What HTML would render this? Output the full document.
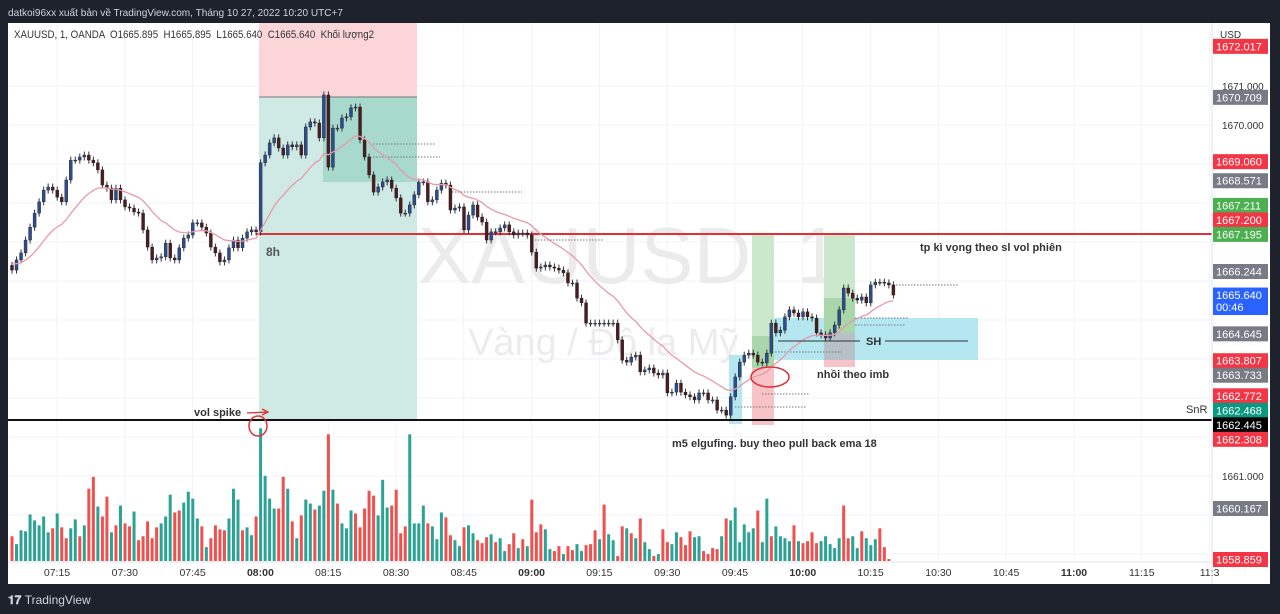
<!DOCTYPE html>
<html><head><meta charset="utf-8"><style>
html,body{margin:0;padding:0;background:#1e222d;}
svg{display:block;font-family:"Liberation Sans","DejaVu Sans",sans-serif;}
.pre{white-space:pre;}
</style></head><body>
<svg id="c" width="1280" height="614" viewBox="0 0 1280 614" xmlns="http://www.w3.org/2000/svg">
<rect x="0" y="0" width="1280" height="614" fill="#1e222d"/>
<text x="8" y="16" font-size="10.5" fill="#d1d4dc" textLength="335" lengthAdjust="spacingAndGlyphs">datkoi96xx xuất bản về TradingView.com, Tháng 10 27, 2022 10:20 UTC+7</text>
<rect x="8" y="23" width="1262" height="561" fill="#ffffff"/>
<g id="grid"></g>
<g>
<text x="418" y="283" font-size="80" fill="#ebebeb">XAUUSD, 1</text>
<text x="468" y="355" font-size="38" fill="#ececec">Vàng / Đô la Mỹ</text>
</g>
<g>
<rect x="259" y="23" width="158" height="74" fill="#fbd5d8"/>
<rect x="259" y="97" width="158" height="322" fill="#cfe9e4"/>
<rect x="323" y="97" width="94" height="85" fill="#a7d9cd"/>
<line x1="259" y1="97" x2="417" y2="97" stroke="#777" stroke-width="1"/>
</g>
<g>
<rect x="769" y="318" width="209" height="42" fill="#b4e7f0"/>
<rect x="729" y="355" width="13" height="69" fill="#b4e7f0"/>
<rect x="752" y="235" width="22" height="101" fill="#cbe8cc"/>
<rect x="752" y="336" width="22" height="32" fill="#a9d6aa"/>
<rect x="752" y="368" width="22" height="57" fill="#f8c3c7"/>
<rect x="824" y="235" width="31" height="63" fill="#cbe8cc"/>
<rect x="824" y="298" width="31" height="35" fill="#a9d6aa"/>
<rect x="824" y="333" width="31" height="27" fill="#b6c2c8"/>
<rect x="824" y="360" width="31" height="7" fill="#f8c3c7"/>
</g>
<g stroke="#777" stroke-width="1" stroke-dasharray="1.5,1.5">
<line x1="373" y1="144" x2="436" y2="144"/>
<line x1="370" y1="157" x2="440" y2="157"/>
<line x1="452" y1="192" x2="522" y2="192"/>
<line x1="535" y1="240" x2="603" y2="240"/>
<line x1="893" y1="285" x2="958" y2="285"/>
<line x1="855" y1="318" x2="908" y2="318"/>
<line x1="855" y1="325" x2="905" y2="325"/>
<line x1="775" y1="352" x2="842" y2="352"/>
<line x1="762" y1="394" x2="810" y2="394"/>
<line x1="735" y1="407" x2="806" y2="407"/>
</g>
<line x1="256" y1="234" x2="1212" y2="234" stroke="#e0303a" stroke-width="2"/>
<line x1="8" y1="420" x2="1212" y2="420" stroke="#111" stroke-width="2"/>
<g id="vol"></g>
<g id="candles"></g>
<path id="ema" fill="none" stroke="#e89aa8" stroke-width="1.3"/>
<g>
<line x1="778" y1="341" x2="860" y2="341" stroke="#333" stroke-width="1"/>
<line x1="885" y1="341" x2="968" y2="341" stroke="#333" stroke-width="1"/>
<text x="866" y="345" font-size="11" font-weight="bold" fill="#333">SH</text>
<ellipse cx="770" cy="377" rx="19" ry="10" fill="none" stroke="#e0303a" stroke-width="1.5"/>
<ellipse cx="258" cy="426" rx="9" ry="10" fill="none" stroke="#e0303a" stroke-width="1.5"/>
<path d="M247 413 L268 412 M262 409 L268 412 L262 415" fill="none" stroke="#e0303a" stroke-width="1.3"/>
<text x="266" y="256" font-size="12" font-weight="bold" fill="#555">8h</text>
<text x="194" y="416" font-size="11" font-weight="bold" fill="#333">vol spike</text>
<text x="817" y="378" font-size="11" font-weight="bold" fill="#333">nhồi theo imb</text>
<text x="920" y="251" font-size="11" font-weight="bold" fill="#333">tp kì vọng theo sl vol phiên</text>
<text x="672" y="447" font-size="11" font-weight="bold" fill="#333">m5 elgufing. buy theo pull back ema 18</text>
<text x="1186" y="413" font-size="11" fill="#333">SnR</text>
</g>
<text x="14" y="38" font-size="11" fill="#333" class="pre" textLength="360" lengthAdjust="spacingAndGlyphs">XAUUSD, 1, OANDA  O1665.895  H1665.895  L1665.640  C1665.640  Khối lượng2</text>
<rect x="1212" y="23" width="58" height="539" fill="#ffffff"/>
<line x1="1212" y1="23" x2="1212" y2="584" stroke="#e0e3eb"/>
<line x1="8" y1="562" x2="1270" y2="562" stroke="#e0e3eb"/>
<text x="1220" y="38" font-size="10" fill="#333">USD</text>
<g id="paxis"></g>
<g id="taxis"></g>
<text x="8" y="604" font-size="12" font-weight="bold" fill="#d1d4dc">𝟏𝟕 <tspan font-weight="normal">TradingView</tspan></text>
</svg>
<script>
const closes = [1666.28,1666.54,1666.72,1667.05,1667.38,1667.74,1668.03,1668.33,1668.41,1668.33,
1668.15,1668.03,1668.59,1669.10,1669.10,1669.18,1669.23,1669.10,1669.03,1668.85,
1668.46,1668.38,1668.08,1668.38,1668.08,1667.90,1667.87,1667.77,1667.74,1667.31,
1666.87,1666.54,1666.59,1666.62,1666.97,1666.59,1666.54,1666.85,1667.10,1667.18,
1667.49,1667.49,1667.38,1667.23,1666.87,1666.72,1666.49,1666.54,1666.85,1667.05,
1666.85,1667.10,1667.26,1667.31,1667.26,1669.03,
1669.23,1669.54,1669.67,1669.41,1669.23,1669.49,1669.44,1669.49,1669.23,1669.95,
1670.08,1670.05,1669.67,1670.77,1668.92,1669.92,1669.92,1670.18,1670.21,1670.44,
1670.46,1669.62,1669.18,1668.72,1668.28,1668.41,1668.54,1668.59,1668.38,1668.13,
1667.74,1667.74,1667.95,1668.21,1668.54,1668.54,1668.03,1668.08,1668.33,1668.51,
1668.46,1667.82,1667.87,1667.90,1667.31,1667.69,1667.95,1667.64,1667.51,1667.05,
1667.26,1667.26,1667.36,1667.44,1667.26,1667.18,1667.23,1667.23,1667.18,1666.74,
1666.33,1666.36,1666.41,1666.36,1666.33,1666.28,1666.21,1665.95,1665.95,1665.56,1665.44,
1664.92,1664.92,1664.92,1664.92,1664.92,1664.92,1664.92,
1664.49,1663.97,1663.92,1664.05,1664.10,1663.67,1663.72,1663.77,1663.64,1663.59,
1663.64,1663.13,1663.15,1663.38,1663.15,1663.08,1663.03,1662.95,1663.13,1663.13,
1662.95,1662.95,1662.69,1662.69,1662.56,1663.03,
1663.54,1663.92,1664.10,1664.15,1664.10,1663.92,1663.90,1664.15,1664.92,1664.67,
1664.74,1665.08,1665.26,1665.18,1665.08,1665.21,1665.08,1665.05,1664.67,1664.62,
1664.54,1664.67,1664.87,1665.26,1665.82,1665.69,1665.56,1665.51,1665.59,1665.44,
1665.90,1665.97,1665.97,1665.95,1665.90,1665.64];
const firstOpen = 1666.40;
const emaSeed = 1666.45;
const volumes = [25,17,31,30,47,41,36,45,29,33,48,34,23,33,42,25,36,73,85,55,
45,65,29,36,56,38,35,50,21,25,40,23,34,38,45,67,49,51,59,70,
63,43,35,14,23,36,32,31,43,73,62,31,34,26,45,134,86,63,53,53,
85,73,40,23,46,62,58,52,56,71,128,72,58,38,33,51,48,34,53,71,
66,46,82,54,56,72,28,35,128,38,38,56,38,35,22,49,44,26,21,15,
34,36,28,21,18,24,27,19,23,10,17,28,13,22,15,62,29,37,32,12,
10,15,7,15,11,17,10,16,17,31,22,
57,27,21,5,35,33,28,23,43,19,12,5,7,32,19,17,29,24,16,30,
24,25,10,7,13,12,25,43,41,54,19,37,29,33,51,19,63,25,35,25,
23,20,36,20,18,20,29,18,20,25,17,13,23,56,23,25,13,30,23,16,22,33,14,2];
const volUp = [0,1,1,1,1,1,1,1,1,0,1,0,0,1,1,0,1,0,0,1,
0,0,1,0,1,0,0,1,0,0,0,0,0,1,1,1,0,0,1,1,
1,1,0,1,0,0,0,0,1,1,1,0,1,1,0,1,1,1,1,0,
0,1,0,1,0,1,1,0,1,1,0,1,0,1,1,1,0,0,0,0,
0,1,1,1,0,0,0,0,1,1,1,1,0,1,1,1,0,0,1,1,
0,1,1,0,0,0,1,0,1,1,0,0,1,0,1,0,0,0,1,1,
0,0,1,0,0,1,1,0,0,0,1,
0,1,1,0,0,1,0,1,0,1,1,0,1,0,0,1,1,0,0,0,
1,1,0,0,0,0,1,0,1,1,1,1,1,1,0,1,1,0,1,1,
1,1,0,1,0,0,0,0,1,1,1,1,1,0,0,1,1,0,1,1,1,0,0,0];
const timeLabels = ["07:15","07:30","07:45","08:00","08:15","08:30","08:45","09:00","09:15","09:30","09:45","10:00","10:15","10:30","10:45","11:00","11:15","11:3"];
const gridPrices = [1671,1670,1669,1668,1667,1666,1665,1664,1663,1662,1661,1660,1659];
const axisPrices = [1671,1670,1661];
const tagPrices = [1672.017,1670.709,1669.060,1668.571,1667.211,1667.200,1667.195,1666.244,1665.640,1664.645,1663.807,1663.733,1662.772,1662.468,1662.445,1662.308,1660.167,1658.859];
const tagKinds = ["r","g","r","g","gr","r","gr","g","b","g","r","g","r","t","k","r","g","r"];

const NS="http://www.w3.org/2000/svg";
const X = i => 12 + i*4.52;
const Y = p => 125 + (1670 - p)*39;
const VY = v => 561 - v*0.99;
const TX = k => 57 + k*67.8;
function mk(tag, attrs, parent){const e=document.createElementNS(NS,tag);for(const k in attrs)e.setAttribute(k,attrs[k]);parent.appendChild(e);return e;}

const grid=document.getElementById('grid');
timeLabels.forEach((t,k)=>{
  const l=mk('line',{x1:TX(k),y1:23,x2:TX(k),y2:562,stroke:'#f0f3fa'},grid);
  
  
});
gridPrices.forEach(p=>{
  const l=mk('line',{x1:8,y1:Y(p),x2:1212,y2:Y(p),stroke:'#f0f3fa'},grid);
  
  
});

const vol=document.getElementById('vol');
volumes.forEach((v,i)=>{
  const r=mk('rect',{x:X(i)-1.5,y:VY(v),width:3,height:561-VY(v),fill:volUp[i]?'#2aa395':'#f0504e'},vol);
  
  
});

const cg=document.getElementById('candles');
closes.forEach((c,i)=>{
  const o = i===0?firstOpen:closes[i-1];
  const up = c>=o;
  const hi=Math.max(o,c)+0.09, lo=Math.min(o,c)-0.09;
  const col = up?'#2b4d8f':'#4a1c1f';
  const w=mk('line',{x1:X(i),y1:Y(hi),x2:X(i),y2:Y(lo),stroke:'#333','stroke-width':1},cg);
  
  
  const top=Y(Math.max(o,c)), h=Math.max(1,Math.abs(Y(o)-Y(c)));
  const b=mk('rect',{x:X(i)-1.5,y:top,width:3,height:h,fill:col,stroke:'#222','stroke-width':0.4},cg);
  
  
});

let e=emaSeed, k=2/19, d='';
closes.forEach((c,i)=>{e = c*k+e*(1-k); d+=(i?'L':'M')+X(i).toFixed(1)+' '+Y(e).toFixed(1);});
document.getElementById('ema').setAttribute('d',d);

const pa=document.getElementById('paxis');
axisPrices.forEach(p=>{
  const t=mk('text',{x:1222,y:Y(p)+4,'font-size':10,fill:'#333'},pa);
  t.textContent=p.toFixed(3);
  
  
});
const tagH = tagKinds.map(k=>k==='b'?27:14.5);
let pos = tagPrices.map(p=>Y(p));
let clusters=[];
pos.forEach((y,j)=>{
  const last=clusters[clusters.length-1];
  if(last){const lj=last[last.length-1]; if(y-pos[lj] < tagH[lj]){last.push(j);return;}}
  clusters.push([j]);
});
const place=pos.slice();
clusters.forEach(cl=>{
  if(cl.length<2) return;
  const total=cl.reduce((s,j)=>s+tagH[j],0)-tagH[cl[cl.length-1]];
  const mean=cl.reduce((s,j)=>s+pos[j],0)/cl.length;
  let start=mean-total/2;
  if(cl.includes(6)) start = pos[cl[cl.length-1]] - total;
  cl.forEach(j=>{place[j]=start; start+=tagH[j];});
});
const colors={r:'#f23645',g:'#787b86',gr:'#4caf50',b:'#2962ff',t:'#089981',k:'#000000'};
tagPrices.forEach((p,j)=>{
  const kind=tagKinds[j];
  const y=place[j];
  const r=mk('rect',{x:1213,y:y-7.5,width:55,height:tagH[j]+0.5,fill:colors[kind]},pa);
  
  
  const t=mk('text',{x:1216,y:y+4,'font-size':11,fill:'#fff'},pa);
  t.textContent=p.toFixed(3);
  
  
  if(kind==='b'){
    const t2=mk('text',{x:1216,y:y+16,'font-size':11,fill:'#fff'},pa);
    t2.textContent='00:46';
    
    
  }
});

const ta=document.getElementById('taxis');
timeLabels.forEach((t,k)=>{
  const bold = t.endsWith(':00');
  const el=mk('text',{x:TX(k),y:576,'font-size':10.5,'text-anchor':'middle',fill:'#333','font-weight':bold?'bold':'normal'},ta);
  el.textContent=t;
  
  
});
</script>
</body></html>
